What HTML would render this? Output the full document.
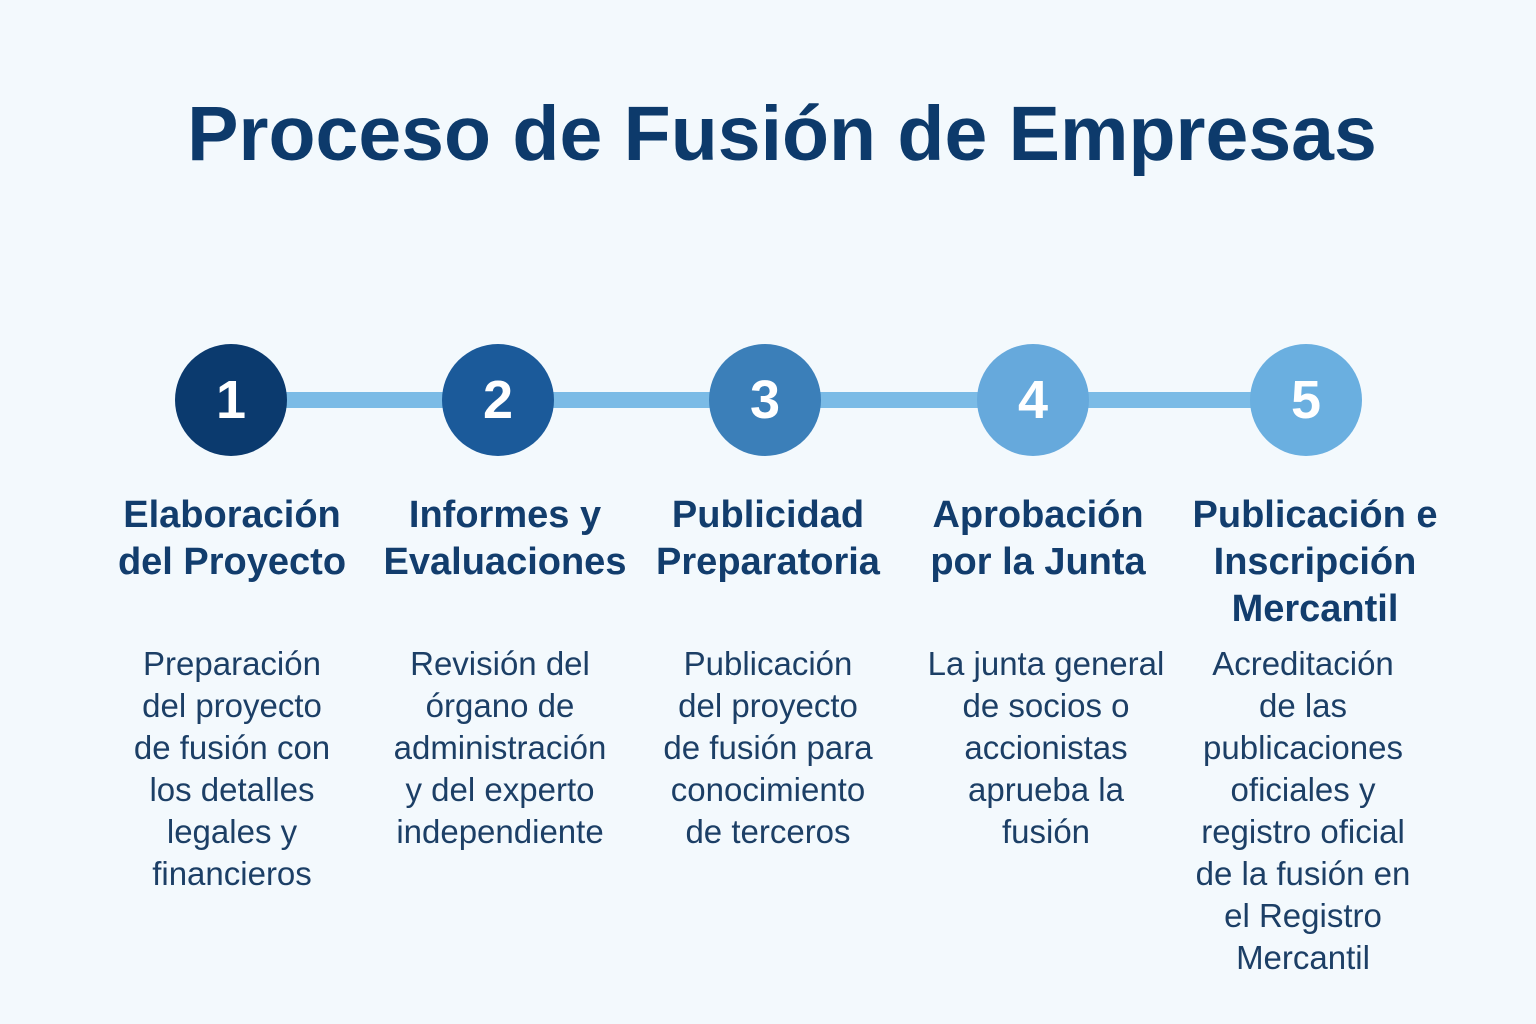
<!DOCTYPE html>
<html><head><meta charset="utf-8"><style>
body{margin:0;width:1536px;height:1024px;background:#f3f9fd;font-family:"Liberation Sans",sans-serif;position:relative;overflow:hidden}
.t{position:absolute;left:14px;width:1536px;top:90px;text-align:center;font-size:77px;font-weight:bold;color:#0d3a6b;letter-spacing:0px}
.line{position:absolute;left:231px;width:1075px;top:392px;height:16px;background:#7bbbe6}
.c{position:absolute;width:112px;height:112px;border-radius:50%;top:344px;color:#fff;font-weight:bold;font-size:54px;text-align:center;line-height:112px}
.h{position:absolute;top:492px;width:280px;text-align:center;font-size:38px;font-weight:bold;color:#123d6d;line-height:47px}
.d{position:absolute;top:643px;width:280px;text-align:center;font-size:33px;color:#1c3f66;line-height:42px}
</style></head><body>
<div class="t">Proceso de Fusión de Empresas</div>
<div class="line"></div>
<div class="c" style="left:175px;background:#0b3a6e">1</div>
<div class="c" style="left:442px;background:#1b5a9a">2</div>
<div class="c" style="left:709px;background:#3b7fb9">3</div>
<div class="c" style="left:977px;background:#66a9dc">4</div>
<div class="c" style="left:1250px;background:#6aafe0">5</div>
<div class="h" style="left:92px">Elaboración<br>del Proyecto</div>
<div class="h" style="left:365px">Informes y<br>Evaluaciones</div>
<div class="h" style="left:628px">Publicidad<br>Preparatoria</div>
<div class="h" style="left:898px">Aprobación<br>por la Junta</div>
<div class="h" style="left:1175px">Publicación e<br>Inscripción<br>Mercantil</div>
<div class="d" style="left:92px">Preparación<br>del proyecto<br>de fusión con<br>los detalles<br>legales y<br>financieros</div>
<div class="d" style="left:360px">Revisión del<br>órgano de<br>administración<br>y del experto<br>independiente</div>
<div class="d" style="left:628px">Publicación<br>del proyecto<br>de fusión para<br>conocimiento<br>de terceros</div>
<div class="d" style="left:906px">La junta general<br>de socios o<br>accionistas<br>aprueba la<br>fusión</div>
<div class="d" style="left:1163px">Acreditación<br>de las<br>publicaciones<br>oficiales y<br>registro oficial<br>de la fusión en<br>el Registro<br>Mercantil</div>
</body></html>
